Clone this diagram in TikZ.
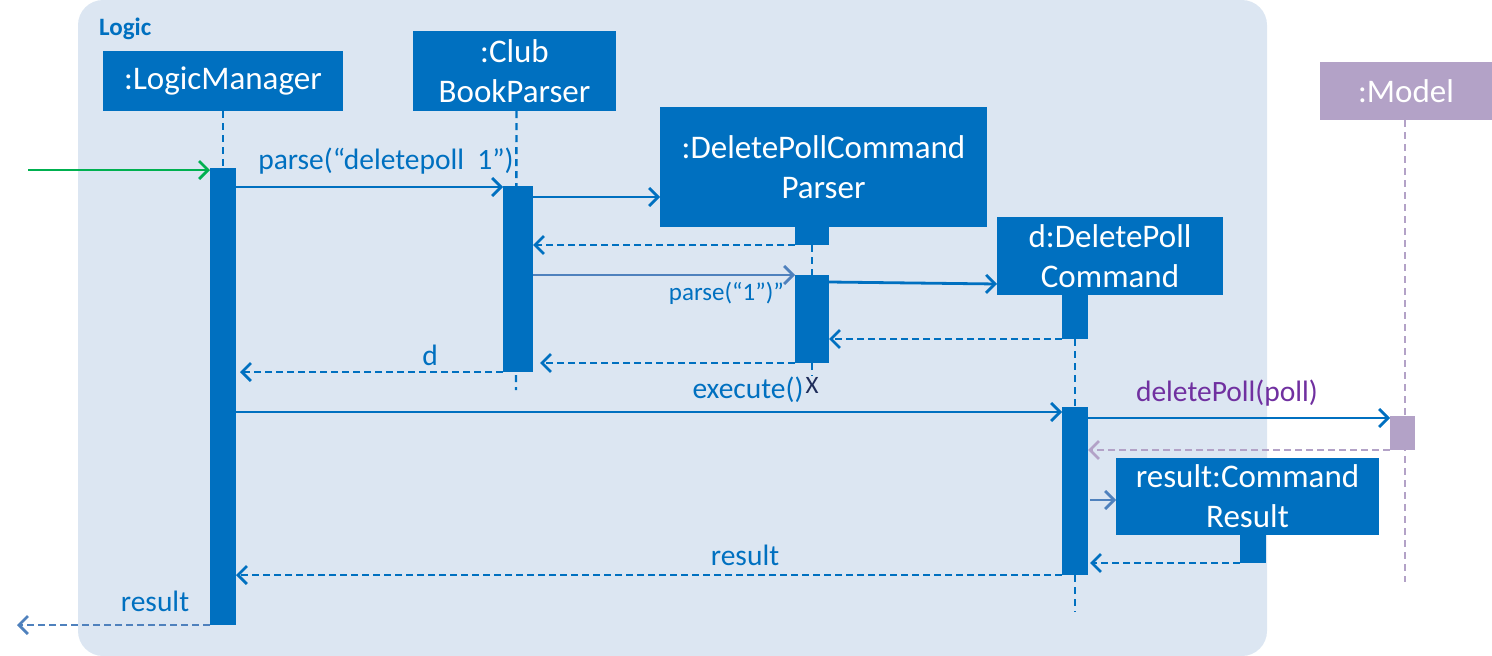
\documentclass[tikz,border=0pt]{standalone}
\usepackage{fontspec}
\setmainfont{Carlito}
\usetikzlibrary{arrows.meta}
\definecolor{boxblue}{HTML}{0070C0}
\definecolor{bgblue}{HTML}{DCE6F2}
\definecolor{lightarrow}{HTML}{4F81BD}
\definecolor{modelc}{HTML}{B3A2C7}
\definecolor{purpletext}{HTML}{7030A0}
\definecolor{greenarrow}{HTML}{00B050}
\definecolor{navyx}{HTML}{1F2D5A}
\tikzset{
  objbox/.style={fill=boxblue, draw=none, text=white, anchor=north west, inner sep=0pt, outer sep=0pt, align=center, font=\fontsize{33}{40}\selectfont},
  actbar/.style={fill=boxblue, draw=none, anchor=north west, inner sep=0pt, outer sep=0pt},
  msg/.style={line width=2.8pt, draw=boxblue, -{Straight Barb[length=9pt,width=18pt,line width=2.8pt]}},
  retmsg/.style={msg, dash pattern=on 7pt off 4pt},
  lifeline/.style={line width=2.4pt, draw=boxblue, dash pattern=on 7pt off 5pt},
  lbl/.style={text=boxblue, font=\fontsize{29.5}{32}\selectfont, inner sep=0pt}
}
\begin{document}
\begin{tikzpicture}[x=1pt,y=-1pt]
\useasboundingbox (0,0) rectangle (1492,656);
% background frame
\fill[bgblue, rounded corners=25pt] (78,0) rectangle (1267,656);
\node[anchor=west, text=boxblue, font=\bfseries\fontsize{25}{27}\selectfont, inner sep=0pt] (logiclbl) at (99,29) {Logic};

% objects
\node[objbox, minimum width=240pt, minimum height=60pt] (lm) at (103,51) {:LogicManager};
\node[objbox, minimum width=203pt, minimum height=80pt] (cbp) at (413,31) {:Club\\BookParser};
\node[objbox, minimum width=327pt, minimum height=120pt] (dpcp) at (660,107) {:DeletePollCommand\\Parser};
\node[actbar, minimum width=34pt, minimum height=19pt] (dpcpstub) at (795,226) {};
\node[objbox, minimum width=226pt, minimum height=78pt] (dpc) at (997,217) {d:DeletePoll\\Command};
\node[actbar, minimum width=26pt, minimum height=45pt] (dpcstub) at (1062,294) {};
\node[objbox, minimum width=263pt, minimum height=77pt] (res) at (1116,458) {result:Command\\Result};
\node[actbar, minimum width=26pt, minimum height=29pt] (resstub) at (1240,534) {};
\node[objbox, fill=modelc, minimum width=172pt, minimum height=58pt] (model) at (1320,62) {:Model};

% lifeline end points
\coordinate (cbpend) at (516,390);
\coordinate (dpcpend) at (812,376);
\coordinate (dpcend) at (1075,612);
\coordinate (modelend) at (1405,582);

% lifelines
\draw[lifeline] (223,111) -- (223,168);
\draw[lifeline] (cbp.south) ++(2,0) -- (cbpend);
\draw[lifeline] (812,245) -- (812,275);
\draw[lifeline] (812,363) -- (dpcpend);
\draw[lifeline] (1075,339) -- (1075,407);
\draw[lifeline] (1075,575) -- (dpcend);
\draw[lifeline, draw=modelc] (1405,120) -- (modelend);

% activation bars
\node[actbar, minimum width=26pt, minimum height=457pt] (lmbar) at (210,168) {};
\node[actbar, minimum width=30pt, minimum height=186pt] (cbpbar) at (503,186) {};
\node[actbar, minimum width=34pt, minimum height=88pt] (dpcpbar) at (795,275) {};
\node[actbar, minimum width=26pt, minimum height=168pt] (dpcbar) at (1062,407) {};
\node[actbar, fill=modelc, minimum width=25pt, minimum height=34pt] (modelbar) at (1390,416) {};

% messages
\coordinate (start) at (28,170);
\draw[msg, draw=greenarrow] (start) -- (lmbar.west |- start);

\draw[msg] (lmbar.east |- 0,187) -- (cbpbar.west |- 0,187);
\node[lbl] (l1) at (386,161) {parse(“deletepoll\ \ 1”)};

\draw[msg] (cbpbar.east |- 0,197) -- (dpcp.west |- 0,197);
\draw[retmsg] (dpcpstub.south west) -- (cbpbar.east |- dpcpstub.south);

\draw[msg, draw=lightarrow] (cbpbar.east |- dpcpbar.north) -- (dpcpbar.north west);
\node[lbl, anchor=east, font=\fontsize{25}{28}\selectfont] (l2) at (784,293) {parse(“1”)”};

\draw[msg] (dpcpbar.east |- 0,282) -- (dpc.west |- 0,284);
\draw[retmsg] (dpcstub.south west) -- (dpcpbar.east |- dpcstub.south);
\draw[retmsg] (dpcpbar.south west) -- ([xshift=7pt]cbpbar.east |- dpcpbar.south);
\draw[retmsg] (cbpbar.south west) -- ([xshift=4pt]lmbar.east |- cbpbar.south);
\node[lbl] (l3) at (430,355) {d};
\node[text=navyx, font=\fontsize{25}{28}\selectfont, inner sep=0pt] (xmark) at (812,385) {X};

\draw[msg] (lmbar.east |- 0,412) -- (dpcbar.west |- 0,412);
\node[lbl] (l4) at (748,390) {execute()};

\draw[msg] (dpcbar.east |- 0,418) -- (modelbar.west |- 0,418);
\node[lbl, text=purpletext] (l5) at (1227,393) {deletePoll(poll)};
\draw[retmsg, draw=modelc] (modelbar.south west) -- (dpcbar.east |- modelbar.south);

\draw[msg, draw=lightarrow] ([xshift=2pt]dpcbar.east |- 0,500) -- (res.west |- 0,500);
\draw[retmsg] (resstub.south west) -- ([xshift=2pt]dpcbar.east |- resstub.south);
\draw[retmsg] (dpcbar.south west) -- (lmbar.east |- dpcbar.south);
\node[lbl] (l6) at (745,555) {result};

\coordinate (outend) at (17,625);
\draw[retmsg, draw=lightarrow] (lmbar.south west) -- (outend);
\node[lbl] (l7) at (155,601) {result};
\end{tikzpicture}
\end{document}
